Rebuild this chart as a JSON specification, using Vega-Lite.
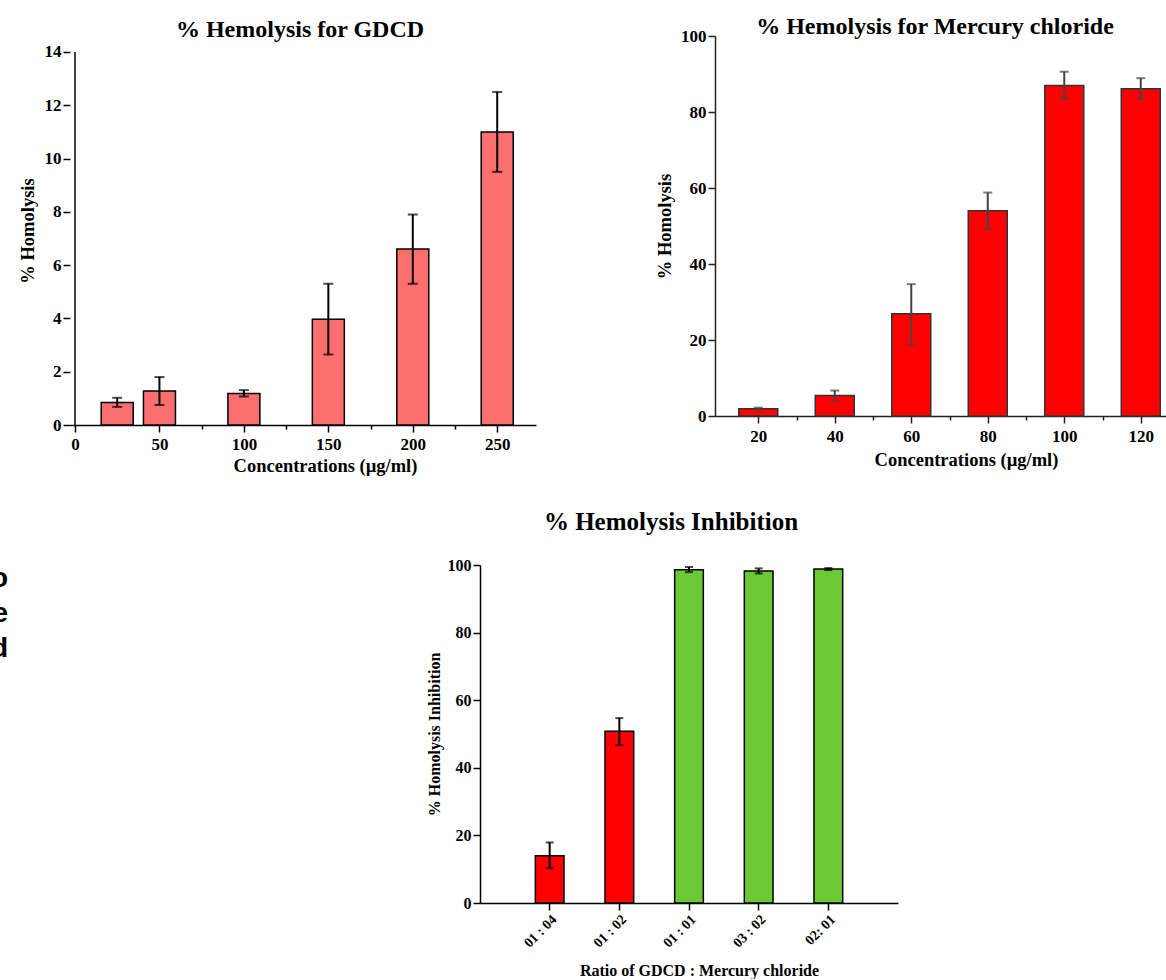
{
  "$schema": "https://vega.github.io/schema/vega-lite/v6.json",
  "background": "white",
  "padding": {"left": 0, "top": 14, "right": 0, "bottom": 0},
  "config": {
    "view": {"stroke": null},
    "axis": {
      "grid": false,
      "domainColor": "black",
      "domainWidth": 1.5,
      "tickColor": "black",
      "tickWidth": 1.5,
      "labelFont": "Liberation Serif",
      "labelFontWeight": "bold",
      "labelColor": "black",
      "labelPadding": 2,
      "labelOverlap": false,
      "labelFlush": false,
      "titleFont": "Liberation Serif",
      "titleFontWeight": "bold",
      "titleColor": "black"
    },
    "title": {"font": "Liberation Serif", "fontWeight": "bold", "color": "black", "anchor": "middle"}
  },
  "datasets": {
    "gdcd": [
      {"conc": 25, "mean": 0.84, "lo": 0.68, "hi": 1.02},
      {"conc": 50, "mean": 1.28, "lo": 0.75, "hi": 1.8},
      {"conc": 100, "mean": 1.18, "lo": 1.07, "hi": 1.31},
      {"conc": 150, "mean": 3.97, "lo": 2.65, "hi": 5.3},
      {"conc": 200, "mean": 6.61, "lo": 5.3, "hi": 7.9},
      {"conc": 250, "mean": 11.0, "lo": 9.5, "hi": 12.5}
    ],
    "hgcl": [
      {"conc": 20, "mean": 1.9, "lo": 1.6, "hi": 2.2},
      {"conc": 40, "mean": 5.4, "lo": 4.0, "hi": 6.7},
      {"conc": 60, "mean": 26.9, "lo": 18.8, "hi": 34.7},
      {"conc": 80, "mean": 54.0, "lo": 49.3, "hi": 58.8},
      {"conc": 100, "mean": 87.0, "lo": 83.5, "hi": 90.6},
      {"conc": 120, "mean": 86.1, "lo": 83.5, "hi": 88.9}
    ],
    "ratio": [
      {"ratio": "01 : 04", "mean": 14.0, "lo": 10.3, "hi": 17.9},
      {"ratio": "01 : 02", "mean": 50.8, "lo": 46.7, "hi": 54.7},
      {"ratio": "01 : 01", "mean": 98.6, "lo": 97.9, "hi": 99.4},
      {"ratio": "03 : 02", "mean": 98.2, "lo": 97.5, "hi": 99.0},
      {"ratio": "02: 01", "mean": 98.8, "lo": 98.5, "hi": 99.1}
    ],
    "letters": [{"t": "o"}, {"t": "e"}, {"t": "d"}]
  },
  "vconcat": [
    {
      "concat": [
        {
          "width": 2, "height": 2,
          "data": {"name": "letters"},
          "mark": {"type": "text"},
          "encoding": {"text": {"value": ""}}
        },
        {
          "concat": [
            {
              "width": 466, "height": 389,
              "data": {"name": "gdcd"},
              "title": {"text": "% Hemolysis for GDCD", "fontSize": 24, "frame": "group", "offset": -6, "dx": -3},
              "encoding": {
                "x": {
                  "field": "conc", "type": "quantitative",
                  "scale": {"domain": [0, 270], "nice": false, "zero": false},
                  "axis": {
                    "values": [0, 50, 75, 100, 125, 150, 175, 200, 225, 250],
                    "labelExpr": "datum.value % 50 === 0 ? datum.label : ''",
                    "tickSize": {"condition": {"test": "datum.value % 50 === 0", "value": 7}, "value": 4},
                    "labelFontSize": 17,
                    "labelPadding": 4,
                    "title": "Concentrations (µg/ml)",
                    "titleFontSize": 18.5,
                    "titlePadding": 4,
                    "titleX": 255
                  }
                }
              },
              "layer": [
                {
                  "mark": {"type": "bar", "size": 32, "color": "#FB6F6F", "stroke": "black", "strokeWidth": 1.5},
                  "encoding": {
                    "y": {
                      "field": "mean", "type": "quantitative", "title": "% Homolysis",
                      "scale": {"domain": [0, 14.6], "nice": false},
                      "axis": {
                        "values": [0, 1, 2, 3, 4, 5, 6, 7, 8, 9, 10, 11, 12, 13, 14],
                        "labelExpr": "datum.value % 2 === 0 ? datum.label : ''",
                        "tickSize": {"condition": {"test": "datum.value % 2 === 0", "value": 7}, "value": 4},
                        "domain": false,
                        "labelFontSize": 17,
                        "titleFontSize": 18.5,
                        "titlePadding": 7
                      }
                    }
                  }
                },
                {
                  "transform": [{"filter": "datum.conc === 25"}],
                  "mark": {"type": "rule", "color": "black", "strokeWidth": 1.5},
                  "encoding": {
                    "x": {"datum": 0, "type": "quantitative"},
                    "y": {"datum": 0, "type": "quantitative", "title": "% Homolysis"},
                    "y2": {"datum": 14}
                  }
                },
                {
                  "mark": {"type": "rule", "color": "black", "strokeWidth": 2},
                  "encoding": {"y": {"field": "lo", "type": "quantitative", "title": "% Homolysis"}, "y2": {"field": "hi"}}
                },
                {
                  "mark": {"type": "tick", "orient": "horizontal", "size": 10, "thickness": 2, "color": "black"},
                  "encoding": {"y": {"field": "lo", "type": "quantitative", "title": "% Homolysis"}}
                },
                {
                  "mark": {"type": "tick", "orient": "horizontal", "size": 10, "thickness": 2, "color": "black"},
                  "encoding": {"y": {"field": "hi", "type": "quantitative", "title": "% Homolysis"}}
                }
              ]
            },
            {
              "width": 456, "height": 380,
              "data": {"name": "hgcl"},
              "title": {"text": "% Hemolysis for Mercury chloride", "fontSize": 24, "frame": "group", "offset": -11.5, "dx": -8},
              "encoding": {
                "x": {
                  "field": "conc", "type": "quantitative",
                  "scale": {"domain": [10, 126.6], "nice": false, "zero": false},
                  "axis": {
                    "values": [20, 30, 40, 50, 60, 70, 80, 90, 100, 110, 120],
                    "labelExpr": "datum.value % 20 === 0 ? datum.label : ''",
                    "tickSize": {"condition": {"test": "datum.value % 20 === 0", "value": 7}, "value": 4},
                    "labelFontSize": 17,
                    "labelPadding": 5,
                    "domainColor": "#222",
                    "tickColor": "#222",
                    "title": "Concentrations (µg/ml)",
                    "titleFontSize": 18.5,
                    "titlePadding": 6,
                    "titleX": 251
                  }
                }
              },
              "layer": [
                {
                  "mark": {"type": "bar", "size": 39, "color": "#FF0000", "stroke": "#333333", "strokeWidth": 1.5},
                  "encoding": {
                    "y": {
                      "field": "mean", "type": "quantitative", "title": "% Homolysis",
                      "scale": {"domain": [0, 100], "nice": false},
                      "axis": {
                        "values": [0, 10, 20, 30, 40, 50, 60, 70, 80, 90, 100],
                        "labelExpr": "datum.value % 20 === 0 ? datum.label : ''",
                        "tickSize": {"condition": {"test": "datum.value % 20 === 0", "value": 7}, "value": 4},
                        "labelFontSize": 17,
                        "domainColor": "#222",
                        "tickColor": "#222",
                        "titleFontSize": 18.5,
                        "titlePadding": 6
                      }
                    }
                  }
                },
                {
                  "mark": {"type": "rule", "color": "#444444", "strokeWidth": 2},
                  "encoding": {"y": {"field": "lo", "type": "quantitative", "title": "% Homolysis"}, "y2": {"field": "hi"}}
                },
                {
                  "mark": {"type": "tick", "orient": "horizontal", "size": 9, "thickness": 2, "color": "#444444"},
                  "encoding": {"y": {"field": "lo", "type": "quantitative", "title": "% Homolysis"}}
                },
                {
                  "mark": {"type": "tick", "orient": "horizontal", "size": 9, "thickness": 2, "color": "#444444"},
                  "encoding": {"y": {"field": "hi", "type": "quantitative", "title": "% Homolysis"}}
                }
              ]
            }
          ],
          "columns": 2,
          "spacing": 119
        }
      ],
      "columns": 2,
      "spacing": 16
    },
    {
      "concat": [
        {
          "width": 16, "height": 98,
          "data": {"name": "letters"},
          "mark": {"type": "text", "font": "Liberation Sans", "fontWeight": "bold", "fontSize": 28, "align": "right", "baseline": "middle", "color": "black", "clip": true},
          "encoding": {
            "y": {"field": "t", "type": "nominal", "sort": null, "scale": {"type": "point", "padding": 0.4}, "axis": null},
            "text": {"field": "t"}
          }
        },
        {
          "width": 418, "height": 338,
          "data": {"name": "ratio"},
          "title": {"text": "% Hemolysis Inhibition", "fontSize": 25, "frame": "group", "offset": 22.5, "dx": -18},
          "encoding": {
            "x": {
              "field": "ratio", "type": "nominal", "sort": null,
              "scale": {"paddingInner": 0.588, "paddingOuter": 0.794},
              "axis": {
                "labelAngle": -45,
                "labelFontSize": 14,
                "tickSize": 7,
                "bandPosition": 0.5,
                "title": "Ratio of  GDCD : Mercury chloride",
                "titleFontSize": 16,
                "titlePadding": 13,
                "titleX": 219
              }
            }
          },
          "layer": [
            {
              "mark": {"type": "bar", "stroke": "black", "strokeWidth": 1.5},
              "encoding": {
                "y": {
                  "field": "mean", "type": "quantitative", "title": "% Homolysis Inhibition",
                  "scale": {"domain": [0, 100], "nice": false},
                  "axis": {
                    "values": [0, 10, 20, 30, 40, 50, 60, 70, 80, 90, 100],
                    "labelExpr": "datum.value % 20 === 0 ? datum.label : ''",
                    "tickSize": {"condition": {"test": "datum.value % 20 === 0", "value": 7}, "value": 4},
                    "labelFontSize": 16,
                    "titleFontSize": 16,
                    "titlePadding": 5
                  }
                },
                "color": {
                  "field": "ratio", "type": "nominal",
                  "scale": {"domain": ["01 : 04", "01 : 02", "01 : 01", "03 : 02", "02: 01"], "range": ["#FF0000", "#FF0000", "#6CC833", "#6CC833", "#6CC833"]},
                  "legend": null
                }
              }
            },
            {
              "mark": {"type": "rule", "color": "black", "strokeWidth": 2},
              "encoding": {"y": {"field": "lo", "type": "quantitative", "title": "% Homolysis Inhibition"}, "y2": {"field": "hi"}}
            },
            {
              "mark": {"type": "tick", "orient": "horizontal", "size": 8, "thickness": 2, "color": "black"},
              "encoding": {"y": {"field": "lo", "type": "quantitative", "title": "% Homolysis Inhibition"}}
            },
            {
              "mark": {"type": "tick", "orient": "horizontal", "size": 8, "thickness": 2, "color": "black"},
              "encoding": {"y": {"field": "hi", "type": "quantitative", "title": "% Homolysis Inhibition"}}
            }
          ]
        }
      ],
      "columns": 2,
      "spacing": 410
    }
  ],
  "spacing": 34
}
